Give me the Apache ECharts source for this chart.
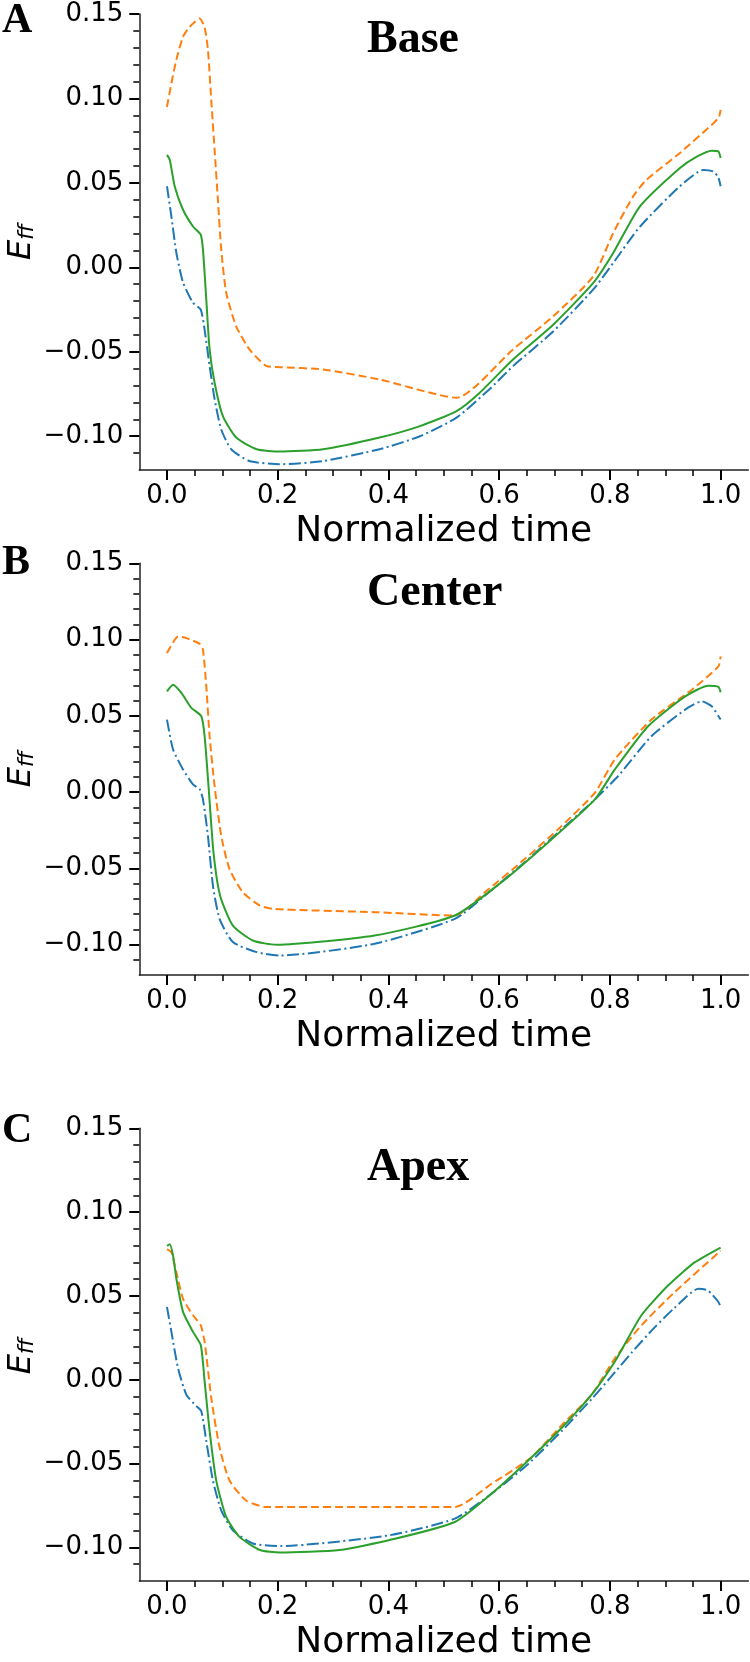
<!DOCTYPE html>
<html><head><meta charset="utf-8">
<script src="https://cdn.jsdelivr.net/npm/echarts@6/dist/echarts.min.js"></script>
<style>html,body{margin:0;padding:0;background:#fff}#chart{width:750px;height:1662px}</style>
</head><body><div id="chart"></div>
<script>
// ---------- data ----------
const panelTitles = ['Base', 'Center', 'Apex'];
const panelLetters = ['A', 'B', 'C'];
const xLabel = 'Normalized time';
const xMajorTicks = [0, 0.2, 0.4, 0.6, 0.8, 1.0];
const xMinorTicks = [0.05,0.1,0.15,0.25,0.3,0.35,0.45,0.5,0.55,0.65,0.7,0.75,0.85,0.9,0.95];
const yMajorTicks = [-0.10, -0.05, 0, 0.05, 0.10, 0.15];
const yMinorTicks = [-0.11,-0.09,-0.08,-0.07,-0.06,-0.04,-0.03,-0.02,-0.01,0.01,0.02,0.03,0.04,0.06,0.07,0.08,0.09,0.11,0.12,0.13,0.14];

const baseBlue = [[0,0.048],[0.008,0.030],[0.017,0.0085],[0.029,-0.009],[0.047,-0.021],[0.061,-0.025],[0.068,-0.037],[0.077,-0.0585],[0.086,-0.078],[0.098,-0.096],[0.116,-0.1077],[0.149,-0.1147],[0.204,-0.1166],[0.282,-0.1147],[0.384,-0.1077],[0.457,-0.100],[0.523,-0.089],[0.583,-0.072],[0.625,-0.0585],[0.6975,-0.038],[0.770,-0.0131],[0.806,0.0026],[0.854,0.024],[0.926,0.0479],[0.969,0.0577],[0.987,0.0567],[0.996,0.053],[1.0,0.048]];
const baseOrange = [[0,0.095],[0.008,0.109],[0.017,0.123],[0.029,0.1365],[0.041,0.1424],[0.059,0.1474],[0.068,0.142],[0.074,0.1287],[0.080,0.099],[0.086,0.0696],[0.092,0.040],[0.098,0.0105],[0.107,-0.0151],[0.125,-0.0349],[0.149,-0.0486],[0.180,-0.0585],[0.204,-0.0591],[0.282,-0.0605],[0.384,-0.0664],[0.523,-0.0772],[0.625,-0.0486],[0.6975,-0.029],[0.770,-0.0053],[0.806,0.0203],[0.842,0.042],[0.866,0.0518],[0.926,0.0676],[0.987,0.0853],[0.997,0.089],[1.0,0.0932]];
const baseGreen = [[0,0.0666],[0.005,0.0637],[0.014,0.0479],[0.029,0.0341],[0.047,0.0242],[0.061,0.0193],[0.065,0.0105],[0.071,-0.0191],[0.077,-0.0486],[0.086,-0.0683],[0.101,-0.0881],[0.125,-0.1008],[0.162,-0.1077],[0.204,-0.1091],[0.282,-0.1077],[0.384,-0.1008],[0.457,-0.094],[0.523,-0.0851],[0.565,-0.0742],[0.625,-0.0546],[0.6975,-0.034],[0.770,-0.0092],[0.806,0.0085],[0.854,0.036],[0.926,0.0587],[0.957,0.0656],[0.984,0.0691],[0.996,0.0686],[1.0,0.0647]];

const centerBlue = [[0,0.0475],[0.011,0.0279],[0.029,0.0148],[0.047,0.005],[0.059,0.0018],[0.065,-0.0048],[0.074,-0.0288],[0.083,-0.0614],[0.095,-0.0832],[0.119,-0.0984],[0.162,-0.105],[0.204,-0.1072],[0.375,-0.0995],[0.52,-0.0832],[0.574,-0.068],[0.646,-0.0461],[0.713,-0.0244],[0.773,-0.0048],[0.815,0.0105],[0.875,0.0366],[0.936,0.054],[0.966,0.0595],[0.984,0.0562],[1.0,0.0475]];
const centerOrange = [[0,0.0911],[0.005,0.0944],[0.02,0.102],[0.035,0.1009],[0.059,0.0972],[0.065,0.0933],[0.071,0.0693],[0.077,0.0366],[0.086,0.0039],[0.098,-0.0288],[0.113,-0.0505],[0.137,-0.0658],[0.168,-0.0745],[0.192,-0.0767],[0.375,-0.0788],[0.52,-0.081],[0.574,-0.0658],[0.646,-0.044],[0.713,-0.0222],[0.773,-0.0004],[0.809,0.0214],[0.875,0.0475],[0.948,0.0671],[0.996,0.0824],[1.0,0.0889]];
const centerGreen = [[0,0.066],[0.011,0.0704],[0.026,0.065],[0.044,0.0552],[0.062,0.0497],[0.068,0.0366],[0.075,0.0039],[0.084,-0.0396],[0.096,-0.068],[0.119,-0.0876],[0.155,-0.0974],[0.198,-0.1002],[0.375,-0.0941],[0.52,-0.081],[0.604,-0.0592],[0.695,-0.0309],[0.773,-0.0048],[0.809,0.0148],[0.869,0.0431],[0.936,0.0627],[0.978,0.0697],[0.996,0.0689],[1.0,0.0654]];

const apexBlue = [[0,0.0434],[0.008,0.0286],[0.02,0.0069],[0.035,-0.0089],[0.053,-0.0157],[0.062,-0.0187],[0.071,-0.0365],[0.083,-0.0601],[0.098,-0.0779],[0.119,-0.0897],[0.155,-0.0976],[0.204,-0.0992],[0.402,-0.0927],[0.52,-0.0828],[0.586,-0.068],[0.652,-0.0503],[0.713,-0.0305],[0.767,-0.0115],[0.80,0.001],[0.84,0.0165],[0.88,0.031],[0.917,0.043],[0.960,0.0543],[0.977,0.0533],[0.996,0.0464],[1.0,0.0434]];
const apexOrange = [[0,0.078],[0.008,0.076],[0.017,0.0641],[0.029,0.0483],[0.047,0.0385],[0.061,0.0325],[0.068,0.0227],[0.080,-0.0108],[0.095,-0.0404],[0.113,-0.0601],[0.143,-0.072],[0.180,-0.0759],[0.52,-0.0759],[0.586,-0.0621],[0.658,-0.0463],[0.713,-0.027],[0.767,-0.0089],[0.809,0.0128],[0.857,0.0325],[0.917,0.0523],[1.0,0.0769]];
const apexGreen = [[0,0.0799],[0.005,0.0809],[0.011,0.074],[0.017,0.0602],[0.029,0.0405],[0.047,0.0286],[0.061,0.0207],[0.068,-0.0009],[0.077,-0.0305],[0.089,-0.0601],[0.107,-0.0818],[0.131,-0.0937],[0.168,-0.1015],[0.204,-0.103],[0.312,-0.1015],[0.402,-0.0956],[0.52,-0.0848],[0.586,-0.068],[0.652,-0.0483],[0.713,-0.0286],[0.767,-0.0089],[0.809,0.0109],[0.857,0.0385],[0.905,0.0562],[0.953,0.07],[1.0,0.0789]];

const blueSeries = [baseBlue, centerBlue, apexBlue];
const orangeSeries = [baseOrange, centerOrange, apexOrange];
const greenSeries = [baseGreen, centerGreen, apexGreen];

// ---------- layout / style ----------
const gridLeft = 139.3, gridWidth = 609;
const gridTops = [14, 563.3, 1128.3];
const gridHeights = [456, 411.7, 456];
const xMin = -0.05, xMax = 1.05, yMin = -0.12, yMax = 0.15;
const tickFont = 'DejaVu Sans';
const axisColor = '#222';

const fmtY = v => (v < 0 ? '\u2212' : '') + Math.abs(v).toFixed(2);
const fmtX = v => v.toFixed(1);

const grids = [], xAxes = [], yAxes = [], series = [], graphics = [];
for (let i = 0; i < 3; i++) {
  grids.push({left: gridLeft, top: gridTops[i], width: gridWidth, height: gridHeights[i], containLabel: false});
  xAxes.push({
    type: 'value', gridIndex: i, min: xMin, max: xMax, position: 'bottom',
    name: xLabel, nameLocation: 'middle', nameGap: 44,
    nameTextStyle: {fontFamily: tickFont, fontSize: 36, color: '#000'},
    axisLine: {show: true, onZero: false, lineStyle: {color: axisColor, width: 1.5}},
    axisTick: {show: true, customValues: xMajorTicks, length: 10, lineStyle: {color: '#000', width: 2}},
    axisLabel: {show: true, customValues: xMajorTicks, formatter: fmtX, margin: 13, fontFamily: tickFont, fontSize: 26, color: '#000'},
    splitLine: {show: false}
  });
  xAxes.push({
    type: 'value', gridIndex: i, min: xMin, max: xMax, position: 'bottom', offset: 0,
    axisLine: {show: false, onZero: false},
    axisTick: {show: true, customValues: xMinorTicks, length: 6, lineStyle: {color: '#000', width: 1.5}},
    axisLabel: {show: false}, splitLine: {show: false}
  });
  yAxes.push({
    type: 'value', gridIndex: i, min: yMin, max: yMax, position: 'left',
    axisLine: {show: true, onZero: false, lineStyle: {color: axisColor, width: 1.5}},
    axisTick: {show: true, customValues: yMajorTicks, length: 10, lineStyle: {color: '#000', width: 2}},
    axisLabel: {show: true, customValues: yMajorTicks, formatter: fmtY, margin: 16, fontFamily: tickFont, fontSize: 26, color: '#000'},
    splitLine: {show: false}
  });
  yAxes.push({
    type: 'value', gridIndex: i, min: yMin, max: yMax, position: 'left', offset: 0,
    axisLine: {show: false, onZero: false},
    axisTick: {show: true, customValues: yMinorTicks, length: 6, lineStyle: {color: '#000', width: 1.5}},
    axisLabel: {show: false}, splitLine: {show: false}
  });
  const common = {type: 'line', xAxisIndex: 2 * i, yAxisIndex: 2 * i, showSymbol: false, symbol: 'none',
    smooth: 0.2, animation: false, z: 3};
  series.push(Object.assign({}, common, {data: blueSeries[i], lineStyle: {color: '#1f77b4', width: 2, type: [12, 3.5, 2, 3.5]}}));
  series.push(Object.assign({}, common, {data: orangeSeries[i], lineStyle: {color: '#ff7f0e', width: 2, type: [8, 4]}}));
  series.push(Object.assign({}, common, {data: greenSeries[i], lineStyle: {color: '#2ca02c', width: 2, type: 'solid'}}));

  const cy = gridTops[i] + gridHeights[i] / 2;
  graphics.push({
    type: 'group', x: 22, y: cy, rotation: Math.PI / 2,
    children: [
      {type: 'text', x: -18, y: 0, style: {text: 'E', font: 'italic 32px "DejaVu Sans"', fill: '#000', textAlign: 'left', textVerticalAlign: 'middle', align: 'left', verticalAlign: 'middle'}},
      {type: 'text', x: 2, y: 5, style: {text: 'ff', font: 'italic 22px "DejaVu Sans"', fill: '#000', textAlign: 'left', textVerticalAlign: 'middle', align: 'left', verticalAlign: 'middle'}}
    ]
  });
}
const titleMidY = [40.5, 593, 1168];
const letterMidY = [21.5, 563.5, 1131.5];
for (let i = 0; i < 3; i++) {
  graphics.push({type: 'text', x: 367, y: titleMidY[i], style: {text: panelTitles[i], font: 'bold 46px "Liberation Serif"', fill: '#000', textAlign: 'left', textVerticalAlign: 'middle', align: 'left', verticalAlign: 'middle'}});
  graphics.push({type: 'text', x: 2, y: letterMidY[i], style: {text: panelLetters[i], font: 'bold 42px "Liberation Serif"', fill: '#000', textAlign: 'left', textVerticalAlign: 'middle', align: 'left', verticalAlign: 'middle'}});
}

const chart = echarts.init(document.getElementById('chart'), null, {renderer: 'canvas'});
chart.setOption({
  backgroundColor: '#fff',
  animation: false,
  grid: grids, xAxis: xAxes, yAxis: yAxes, series: series, graphic: graphics
});
</script></body></html>
